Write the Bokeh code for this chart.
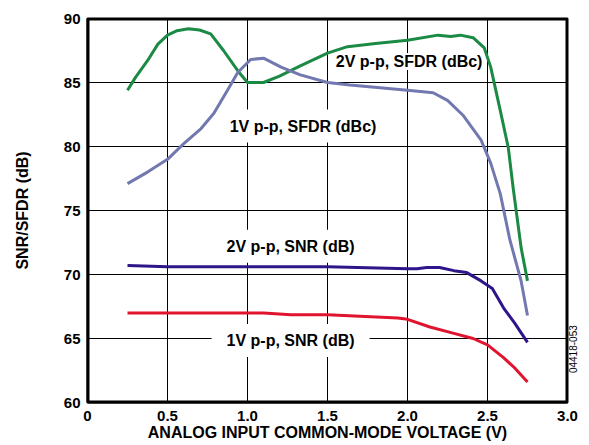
import math
from bokeh.plotting import figure
from bokeh.models import Label, FixedTicker, LinearAxis
from bokeh.embed import file_html
from bokeh.resources import INLINE

# 2V p-p, SFDR (dBc)
x_sfdr2 = [0.25, 0.30, 0.375, 0.44, 0.50, 0.56, 0.63, 0.70, 0.77, 0.85, 0.94, 1.00, 1.10, 1.20, 1.33, 1.50, 1.625, 1.80, 2.00, 2.19, 2.27, 2.33, 2.41, 2.48, 2.52, 2.58, 2.63, 2.66, 2.71, 2.75]
y_sfdr2 = [84.4, 85.4, 86.7, 88.0, 88.7, 89.05, 89.2, 89.1, 88.8, 87.5, 85.9, 85.0, 85.0, 85.5, 86.3, 87.3, 87.8, 88.05, 88.3, 88.7, 88.6, 88.7, 88.5, 87.7, 86.2, 82.8, 79.9, 76.8, 72.1, 69.5]

# 1V p-p, SFDR (dBc)
x_sfdr1 = [0.25, 0.375, 0.50, 0.60, 0.71, 0.79, 0.875, 0.94, 1.02, 1.10, 1.21, 1.33, 1.50, 1.64, 2.00, 2.16, 2.25, 2.35, 2.46, 2.52, 2.58, 2.64, 2.71, 2.75]
y_sfdr1 = [77.1, 78.0, 79.0, 80.2, 81.4, 82.6, 84.4, 85.8, 86.8, 86.9, 86.2, 85.6, 85.0, 84.8, 84.4, 84.2, 83.6, 82.4, 80.5, 78.7, 76.3, 72.7, 69.5, 66.8]

# 2V p-p, SNR (dB)
x_snr2 = [0.25, 0.50, 1.00, 1.50, 2.00, 2.06, 2.12, 2.20, 2.29, 2.37, 2.46, 2.53, 2.60, 2.67, 2.75]
y_snr2 = [70.7, 70.6, 70.6, 70.6, 70.45, 70.45, 70.55, 70.55, 70.3, 70.15, 69.5, 68.9, 67.4, 66.2, 64.7]

# 1V p-p, SNR (dB)
x_snr1 = [0.25, 0.50, 1.00, 1.10, 1.27, 1.50, 1.94, 2.00, 2.14, 2.29, 2.41, 2.50, 2.60, 2.67, 2.75]
y_snr1 = [67.0, 67.0, 67.0, 67.0, 66.85, 66.85, 66.6, 66.5, 65.9, 65.4, 65.0, 64.5, 63.5, 62.7, 61.6]

x_range = [0, 3.0]
y_range = [60, 90]
x_ticks = [0, 0.5, 1.0, 1.5, 2.0, 2.5, 3.0]
x_tick_labels = ["0", "0.5", "1.0", "1.5", "2.0", "2.5", "3.0"]
y_ticks = [60, 65, 70, 75, 80, 85, 90]

series_labels = ["2V p-p, SFDR (dBc)", "1V p-p, SFDR (dBc)", "2V p-p, SNR (dB)", "1V p-p, SNR (dB)"]
label_x = [2.01, 1.347, 1.269, 1.269]
label_y = [86.64, 81.6, 72.2, 64.84]
label_pad_h = [2, 10, 10, 15]
label_pad_v = [0, 8, 8, 8]

figure_id = "04418-053"
figure_id_y = 62.3

FONT = "Liberation Sans"
BLACK = "#000000"

p = figure(width=588, height=445, x_range=tuple(x_range), y_range=tuple(y_range),
           output_backend="svg", toolbar_location=None,
           min_border_left=87, min_border_top=18, min_border_right=21, min_border_bottom=43)
p.outline_line_color = BLACK
p.outline_line_width = 2

p.xaxis.ticker = FixedTicker(ticks=x_ticks)
p.yaxis.ticker = FixedTicker(ticks=y_ticks)
p.xaxis.major_label_overrides = {t: l for t, l in zip(x_ticks, x_tick_labels)}
for ax in (p.xaxis, p.yaxis):
    ax.major_tick_out = 0
    ax.minor_tick_out = 0
    ax.axis_line_color = BLACK
    ax.axis_line_width = 2
    ax.major_label_text_font = FONT
    ax.major_label_text_font_style = "bold"
    ax.major_label_text_font_size = "15px"
    ax.major_label_text_color = "black"
    ax.axis_label_text_font = FONT
    ax.axis_label_text_font_style = "bold"
    ax.axis_label_text_font_size = "16px"
    ax.axis_label_text_color = "black"

p.xaxis.axis_label = "ANALOG INPUT COMMON-MODE VOLTAGE (V)"
p.yaxis.axis_label = "SNR/SFDR (dB)"
p.xaxis.major_label_standoff = 8
p.xaxis.axis_label_standoff = 0
p.yaxis.major_label_standoff = 7
p.yaxis.axis_label_standoff = 30

p.xgrid.grid_line_color = BLACK
p.ygrid.grid_line_color = BLACK

# grid lines drawn as thin filled bars (fills instead of strokes)
x_mid = (x_range[0] + x_range[1]) / 2
y_mid = (y_range[0] + y_range[1]) / 2
x_span = x_range[1] - x_range[0]
y_span = y_range[1] - y_range[0]
gx = x_ticks[1:-1]
gy = y_ticks[1:-1]
p.rect(x=gx, y=[y_mid] * len(gx), width=1, height=y_span, width_units="screen",
       fill_color=BLACK, line_color=None, level="underlay")
p.rect(x=[x_mid] * len(gy), y=gy, width=x_span, height=1, height_units="screen",
       fill_color=BLACK, line_color=None, level="underlay")

# frame border as filled bars on the range edges
p.rect(x=[x_range[0], x_range[1]], y=[y_mid, y_mid], width=4, height=y_span,
       width_units="screen", fill_color=BLACK, line_color=None, level="underlay")
p.rect(x=[x_mid, x_mid], y=[y_range[0], y_range[1]], width=x_span, height=4,
       height_units="screen", fill_color=BLACK, line_color=None, level="underlay")

for t, lx, ly, ph, pv in zip(series_labels, label_x, label_y, label_pad_h, label_pad_v):
    p.add_layout(Label(x=lx, y=ly, text=t, text_align="center", text_baseline="middle",
                       text_font=FONT, text_font_style="bold", text_font_size="16px",
                       text_color="black", background_fill_color="white",
                       padding=dict(left=ph, right=ph, top=pv, bottom=pv),
                       level="underlay"))

p.line(x_sfdr2, y_sfdr2, line_color="#1b8a45", line_width=3)
p.line(x_sfdr1, y_sfdr1, line_color="#7179b0", line_width=3)
p.line(x_snr2, y_snr2, line_color="#2e168a", line_width=3)
p.line(x_snr1, y_snr1, line_color="#e0142e", line_width=3)

id_axis = LinearAxis(ticker=FixedTicker(ticks=[figure_id_y]),
                     major_label_overrides={figure_id_y: figure_id},
                     major_label_orientation=math.pi / 2,
                     axis_line_color=None, major_tick_out=0, major_tick_in=0,
                     minor_tick_out=0, minor_tick_in=0, major_label_standoff=6,
                     major_label_text_font=FONT, major_label_text_font_size="10px",
                     major_label_text_color="black")
p.add_layout(id_axis, "right")

open("out.html", "w").write(file_html(p, INLINE))
